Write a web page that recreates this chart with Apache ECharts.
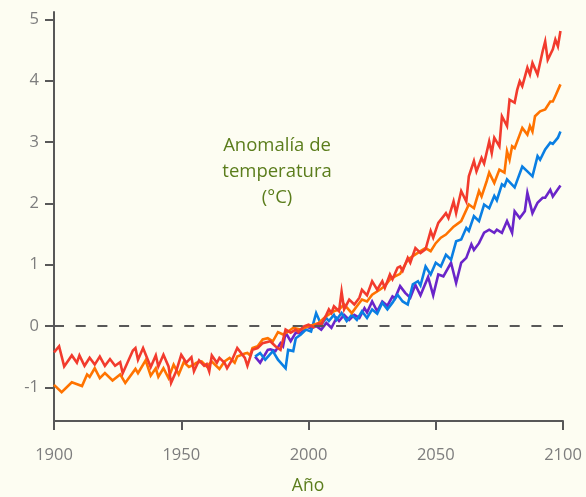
<!DOCTYPE html>
<html><head><meta charset="utf-8">
<script src="https://cdn.jsdelivr.net/npm/echarts@6/dist/echarts.min.js"></script>
<style>html,body{margin:0;padding:0;background:#fdfdf2}#c{width:586px;height:497px}</style>
</head><body><div id="c"></div>
<script>
const xTicks = [1900, 1950, 2000, 2050, 2100];
const yTicks = [-1, 0, 1, 2, 3, 4, 5];

const redYears = [1900,1902,1904,1907,1909,1910,1912,1914,1916,1918,1920,1922,1924,1926,1927,1931,1932,1933,1935,1938,1940,1941,1943,1945,1946,1948,1950,1952,1954,1955,1957,1959,1960,1961,1962,1964,1965,1967,1968,1970,1972,1975,1976,1978,1980,1982,1985,1987,1989,1991,1993,1995,1996,1998,2000,2002,2004,2005,2007,2008,2009,2010,2012,2013,2014,2016,2018,2020,2021,2023,2025,2027,2029,2030,2032,2033,2035,2036,2037,2039,2040,2042,2044,2046,2048,2049,2051,2054,2055,2057,2058,2060,2062,2063,2065,2066,2068,2069,2071,2072,2073,2075,2076,2078,2079,2081,2082,2083,2084,2086,2087,2088,2090,2092,2093,2094,2096,2097,2098,2099];
const redVals = [-0.43,-0.33,-0.66,-0.48,-0.60,-0.48,-0.65,-0.52,-0.63,-0.50,-0.65,-0.54,-0.65,-0.59,-0.77,-0.40,-0.36,-0.55,-0.36,-0.67,-0.48,-0.66,-0.47,-0.66,-0.93,-0.74,-0.47,-0.60,-0.51,-0.74,-0.56,-0.65,-0.62,-0.74,-0.48,-0.60,-0.52,-0.60,-0.69,-0.55,-0.36,-0.52,-0.65,-0.39,-0.36,-0.28,-0.25,-0.33,-0.39,-0.06,-0.11,-0.06,-0.10,-0.01,0.02,-0.02,0.04,0.02,0.18,0.27,0.21,0.32,0.24,0.56,0.27,0.43,0.35,0.46,0.59,0.50,0.73,0.59,0.73,0.62,0.84,0.76,0.95,0.97,0.90,1.11,1.03,1.27,1.19,1.25,1.55,1.44,1.68,1.84,1.76,2.03,1.84,2.20,2.03,2.44,2.69,2.52,2.74,2.65,3.01,2.82,3.07,2.93,3.42,3.26,3.69,3.64,3.85,3.99,3.91,4.21,4.10,4.29,4.10,4.48,4.64,4.34,4.51,4.67,4.56,4.81];

const orangeYears = [1900,1903,1907,1911,1913,1914,1916,1918,1920,1923,1926,1928,1932,1933,1936,1938,1940,1941,1943,1945,1947,1949,1951,1953,1955,1956,1958,1960,1962,1965,1967,1969,1971,1972,1975,1976,1977,1978,1980,1982,1984,1986,1988,1990,1992,1994,1997,1999,2002,2004,2007,2010,2012,2014,2017,2019,2021,2023,2025,2028,2030,2032,2034,2036,2039,2041,2044,2046,2048,2050,2052,2054,2057,2060,2063,2065,2067,2068,2070,2071,2073,2075,2077,2078,2079,2080,2081,2084,2086,2087,2088,2089,2091,2093,2095,2096,2097,2099];
const orangeVals = [-0.96,-1.08,-0.92,-0.98,-0.79,-0.83,-0.69,-0.85,-0.77,-0.89,-0.79,-0.93,-0.70,-0.77,-0.56,-0.81,-0.69,-0.83,-0.69,-0.85,-0.63,-0.79,-0.59,-0.67,-0.63,-0.60,-0.58,-0.66,-0.58,-0.70,-0.58,-0.52,-0.60,-0.50,-0.45,-0.44,-0.48,-0.36,-0.33,-0.22,-0.20,-0.25,-0.10,-0.14,-0.09,-0.03,-0.06,-0.02,0.02,0.05,0.16,0.24,0.27,0.35,0.21,0.32,0.43,0.40,0.51,0.59,0.65,0.76,0.81,0.85,1.08,1.14,1.22,1.27,1.22,1.35,1.44,1.49,1.62,1.71,1.98,1.92,2.20,2.11,2.36,2.50,2.33,2.55,2.50,2.85,2.71,2.93,2.90,3.23,3.12,3.26,3.17,3.42,3.50,3.53,3.66,3.66,3.75,3.94];

const blueYears = [1979,1981,1983,1986,1988,1991,1992,1994,1995,1997,1999,2001,2003,2005,2007,2008,2010,2011,2013,2015,2017,2019,2021,2023,2025,2027,2029,2031,2033,2035,2037,2039,2041,2043,2044,2046,2048,2050,2052,2054,2056,2058,2060,2062,2063,2065,2067,2069,2071,2073,2074,2076,2077,2078,2081,2084,2086,2088,2090,2091,2093,2095,2096,2098,2099];
const blueVals = [-0.50,-0.44,-0.55,-0.41,-0.55,-0.69,-0.39,-0.41,-0.20,-0.14,-0.06,-0.09,0.21,0.02,0.13,0.08,0.18,0.10,0.21,0.08,0.18,0.10,0.24,0.13,0.27,0.20,0.38,0.27,0.38,0.51,0.40,0.35,0.68,0.73,0.66,0.97,0.84,1.03,0.97,1.16,1.08,1.38,1.41,1.60,1.55,1.79,1.71,1.98,1.92,2.12,2.05,2.31,2.28,2.39,2.26,2.60,2.52,2.44,2.77,2.71,2.88,2.99,2.97,3.07,3.17];

const purpleYears = [1979,1981,1984,1985,1987,1989,1990,1991,1993,1995,1997,1999,2001,2003,2005,2007,2009,2011,2012,2014,2016,2018,2020,2022,2023,2025,2027,2029,2031,2033,2034,2036,2038,2040,2042,2044,2047,2049,2051,2053,2056,2058,2060,2062,2064,2065,2067,2069,2071,2073,2074,2076,2078,2080,2081,2083,2085,2086,2088,2090,2092,2093,2095,2096,2099];
const purpleVals = [-0.50,-0.60,-0.39,-0.38,-0.41,-0.28,-0.33,-0.11,-0.25,-0.11,-0.12,-0.01,-0.04,0.00,-0.06,0.05,-0.03,0.13,0.08,0.18,0.10,0.18,0.13,0.29,0.22,0.40,0.24,0.40,0.33,0.48,0.45,0.65,0.54,0.46,0.67,0.50,0.80,0.50,0.84,0.81,1.03,0.70,1.03,1.11,1.33,1.24,1.35,1.52,1.57,1.52,1.57,1.52,1.71,1.52,1.87,1.76,1.87,2.17,1.84,2.01,2.09,2.09,2.22,2.11,2.29];

const zip = (a, b) => a.map((x, i) => [x, b[i]]);
const green = '#5b7d1c';
const axisCol = '#585858';
const labelCol = '#7d7d7d';
const font = '"Open Sans", sans-serif';

function line(name, years, vals, color) {
  return { name, type: 'line', data: zip(years, vals), showSymbol: false, symbol: 'none',
    lineStyle: { color, width: 2.6, join: 'miter' }, itemStyle: { color }, z: 3, animation: false };
}

const chart = echarts.init(document.getElementById('c'), null, { renderer: 'canvas' });
chart.setOption({
  backgroundColor: '#fdfdf2',
  animation: false,
  grid: { left: 54, right: 23, top: 12, bottom: 76, containLabel: false },
  xAxis: {
    type: 'value', min: 1900, max: 2100, interval: 50,
    axisLine: { onZero: false, lineStyle: { color: axisCol, width: 2 } },
    axisTick: { length: 9, lineStyle: { color: axisCol, width: 2 } },
    axisLabel: { color: labelCol, fontSize: 16.5, fontFamily: font, margin: 26, formatter: v => String(v) },
    splitLine: { show: false }
  },
  yAxis: {
    type: 'value', min: -1.55, max: 5.12,
    axisLine: { show: true, onZero: false, lineStyle: { color: axisCol, width: 2 } },
    axisTick: { show: true, length: 9, customValues: yTicks, lineStyle: { color: axisCol, width: 2 } },
    axisLabel: { color: labelCol, fontSize: 16.5, fontFamily: font, margin: 15, customValues: yTicks, formatter: v => String(v) },
    splitLine: { show: false }
  },
  series: [
    Object.assign(line('purple', purpleYears, purpleVals, '#6a25c9'), {
      markLine: { silent: true, symbol: 'none', label: { show: false },
        lineStyle: { color: axisCol, width: 2, type: [10, 11.7] }, data: [{ yAxis: 0 }] }
    }),
    line('blue', blueYears, blueVals, '#0a7fe3'),
    line('orange', orangeYears, orangeVals, '#ff7300'),
    line('red', redYears, redVals, '#f23b2d')
  ],
  graphic: [
    { type: 'text', x: 277, y: 133, style: { text: 'Anomalía de\ntemperatura\n(°C)', textAlign: 'center', fill: green,
      font: '18.5px "Open Sans", sans-serif', lineHeight: 26 } },
    { type: 'text', x: 308, y: 477, style: { text: 'Año', textAlign: 'center', fill: green,
      font: '17.5px "Open Sans", sans-serif' } }
  ]
});
</script>
</body></html>
